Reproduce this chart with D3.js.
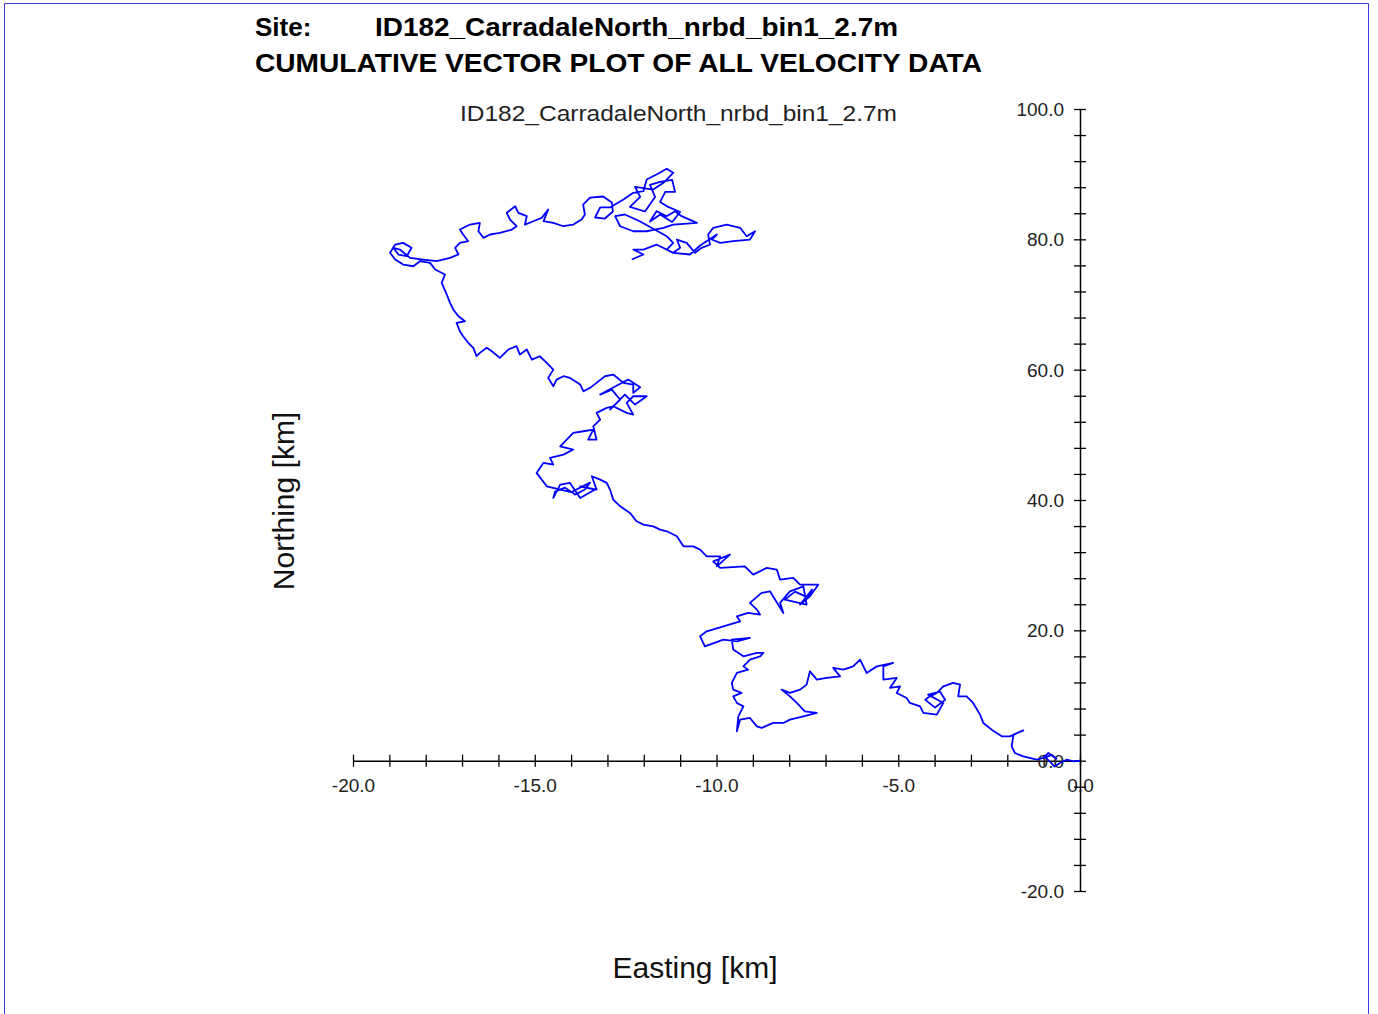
<!DOCTYPE html>
<html>
<head>
<meta charset="utf-8">
<script src="https://cdn.jsdelivr.net/npm/d3@7"></script>
<style>
  html, body { margin: 0; padding: 0; background: #fff; }
  svg { font-family: "Liberation Sans", Arial, sans-serif; }
</style>
</head>
<body>
<svg id="chart" width="1378" height="1014"></svg>
<script>
const siteName = "ID182_CarradaleNorth_nrbd_bin1_2.7m";
const plotTitle = "CUMULATIVE VECTOR PLOT OF ALL VELOCITY DATA";
const xLabel = "Easting [km]";
const yLabel = "Northing [km]";

const xTicks = d3.range(-20, 0.001, 1);     // minor every 1 km
const xLabelled = [-20, -15, -10, -5, 0];
const yTicks = d3.range(-20, 100.001, 4);
const yLabelled = [-20, 0, 20, 40, 60, 80, 100];

// cumulative track [easting km, northing km]
const track = [
  [0,0],[-0.18,-0.11],[-0.37,0.15],[-0.55,-0.35],[-0.70,-0.90],[-0.80,-0.30],[-0.95,0.50],[-0.78,0.90],[-0.65,0.30],
  [-0.87,1.18],[-1.01,0.41],[-1.19,0.15],[-1.56,0.66],
  [-1.79,1.18],[-1.88,2.19],[-1.83,3.99],[-1.56,4.65],[-1.93,3.73],[-2.15,3.73],[-2.43,4.76],[-2.66,5.79],
  [-2.75,7.06],[-2.94,8.86],[-3.12,9.87],[-3.35,9.87],[-3.30,11.67],[-3.49,11.93],[-3.76,11.40],[-3.94,10.39],
  [-4.13,9.87],[-4.26,9.36],[-3.99,8.14],[-3.71,9.36],[-3.85,10.59],[-4.18,10.13],
  [-3.76,8.86],[-3.94,7.06],[-4.31,7.32],[-4.40,8.33],[-4.68,8.86],[-4.77,9.62],[-5.04,10.39],
  [-4.95,11.40],[-5.23,11.16],[-5.04,12.69],[-5.41,12.43],[-5.41,14.47],[-5.14,15.00],[-5.59,14.47],[-5.87,13.46],
  [-6.05,15.50],[-6.24,14.47],[-6.51,13.97],[-6.79,14.23],[-6.60,12.94],[-6.97,12.69],[-7.24,12.43],[-7.43,13.71],
  [-7.52,11.67],[-7.70,10.90],[-7.98,10.39],[-8.21,10.90],[-7.98,9.87],[-7.79,8.86],[-7.57,7.57],[-7.24,7.32],
  [-7.61,6.80],[-7.98,6.29],[-8.16,5.79],[-8.44,5.79],[-8.76,5.02],[-8.89,5.27],[-9.08,6.55],[-9.35,6.29],
  [-9.44,4.50],[-9.40,6.80],[-9.26,8.33],[-9.44,8.86],[-9.54,9.87],[-9.31,10.39],[-9.54,10.90],[-9.58,11.93],
  [-9.44,13.46],[-9.13,13.97],[-9.26,14.47],[-9.08,15.50],[-8.80,16.01],[-8.71,16.53],[-8.89,16.53],[-9.26,16.01],
  [-9.54,17.04],[-9.58,18.57],[-9.08,18.83],[-9.44,18.31],[-9.81,18.57],[-10.32,17.54],[-10.45,19.08],[-10.27,19.85],
  [-9.81,20.61],[-9.35,21.38],[-9.44,22.15],[-9.13,22.67],[-8.80,22.41],[-8.89,23.18],[-9.08,24.21],[-8.76,25.74],
  [-8.53,25.99],[-8.16,22.67],[-8.25,24.21],[-7.98,25.99],[-7.61,26.75],[-7.52,23.95],
  [-8.12,24.71],[-7.84,25.94],[-7.48,25.02],[-7.37,26.25],[-7.70,23.95],
  [-7.43,25.22],[-7.20,27.01],
  [-7.70,27.01],[-7.89,28.04],[-8.25,27.78],[-8.34,29.32],[-8.62,29.58],[-8.99,28.55],[-9.22,29.82],[-9.90,29.58],
  [-10.09,30.59],[-9.63,31.62],[-9.99,29.82],[-9.90,31.36],[-10.27,31.36],[-10.45,32.39],[-10.64,32.89],[-10.91,32.89],
  [-11.09,34.43],[-11.37,35.20],[-11.55,35.46],[-11.74,35.96],[-12.01,36.22],[-12.20,36.73],[-12.38,38.02],[-12.65,39.03],
  [-12.84,40.06],[-12.93,41.60],[-13.02,42.62],[-13.20,43.13],[-13.43,43.64],[-13.30,41.60],[-13.75,42.10],[-13.34,41.60],
  [-13.75,40.32],[-14.03,42.62],[-14.30,42.36],[-14.49,40.32],
  [-14.44,41.29],[-14.17,41.90],[-13.89,40.83],[-13.62,41.60],[-13.48,42.67],[-14.00,41.20],
  [-14.67,42.10],[-14.95,44.16],[-14.76,45.70],[-14.49,45.43],
  [-14.58,46.46],[-14.21,46.97],[-13.94,47.74],[-14.30,48.24],[-14.12,49.27],[-13.94,50.30],[-13.66,50.55],[-13.39,50.81],
  [-13.53,49.27],[-13.30,49.27],[-13.39,51.31],[-13.20,52.34],[-13.30,53.37],[-13.02,54.14],[-12.84,54.38],[-12.47,53.37],
  [-12.29,53.11],[-12.47,54.90],[-12.29,55.92],[-11.92,55.92],
  [-12.24,54.65],[-12.52,56.18],[-12.93,53.88],[-12.65,55.41],[-12.88,56.94],[-13.20,56.18],[-12.43,58.48],[-12.10,57.30],
  [-12.29,56.44],[-12.29,57.71],[-12.56,57.97],[-12.84,59.25],
  [-13.07,58.99],[-13.30,57.97],[-13.48,57.21],[-13.66,56.69],[-13.75,57.71],[-14.03,58.74],[-14.21,58.99],[-14.40,58.48],
  [-14.49,57.45],[-14.63,58.74],[-14.49,60.01],[-14.67,61.04],[-14.86,62.06],[-15.08,61.55],[-15.22,63.09],[-15.41,62.32],
  [-15.50,63.60],[-15.73,63.09],[-15.96,61.81],[-16.18,62.83],[-16.32,63.35],[-16.51,62.58],[-16.60,62.06],[-16.69,63.35],
  [-16.83,64.12],[-16.97,65.13],[-17.06,65.90],[-17.15,67.18],[-16.92,67.43],[-17.10,68.20],[-17.24,69.22],[-17.33,70.25],
  [-17.42,71.53],[-17.56,73.32],[-17.47,74.60],[-17.74,75.37],[-17.88,76.39],[-18.16,76.64],[-18.34,75.87],[-18.62,76.13],
  [-18.84,76.90],[-18.98,77.93],[-18.84,79.20],[-18.62,79.46],[-18.39,78.70],[-18.52,77.41],[-18.75,77.67],[-18.89,78.70],
  [-18.71,78.43],[-18.43,77.16],[-18.07,76.90],[-17.70,76.64],[-17.33,77.16],[-17.10,77.67],[-17.19,78.70],[-17.06,79.46],
  [-16.83,79.71],[-16.97,80.74],[-17.06,81.50],[-16.78,82.27],[-16.51,82.53],[-16.55,81.24],[-16.41,80.23],[-16.23,80.74],
  [-15.96,81.00],[-15.63,81.50],[-15.50,82.01],[-15.68,83.04],[-15.77,84.07],[-15.54,85.08],[-15.45,84.07],[-15.22,83.55],
  [-15.27,82.27],[-15.04,82.78],[-14.81,83.30],[-14.63,84.57],[-14.76,82.78],[-14.49,82.53],[-14.21,82.01],[-13.94,82.27],
  [-13.71,83.04],[-13.62,83.81],[-13.67,85.34],[-13.48,86.41],[-13.12,86.57],[-12.88,85.65],[-12.85,84.27],[-13.07,83.19],
  [-13.34,83.35],[-13.20,84.89],[-12.93,84.89],[-12.56,86.11],[-12.29,87.14],[-12.01,87.39],[-11.92,89.18],[-11.65,89.95],
  [-11.37,90.82],[-11.19,90.21],[-11.46,88.67],[-11.74,87.64],[-12.24,88.05],[-12.10,86.51],[-12.38,84.97],[-11.97,84.27],
  [-11.88,84.97],[-11.69,86.51],[-11.83,88.36],[-11.55,88.82],[-11.22,89.13],[-11.14,87.28],[-11.41,87.28],[-11.55,85.74],
  [-11.33,84.97],[-11.00,84.20],[-11.22,82.66],[-11.55,83.81],[-11.83,82.73],[-11.65,84.32],[-11.37,83.55],[-11.14,84.32],
  [-10.96,83.55],[-10.54,82.53],
  [-11.19,82.27],[-11.46,81.77],[-11.92,81.24],[-12.29,81.24],[-12.65,82.01],[-12.79,83.55],[-12.52,83.81],[-12.10,82.73],
  [-11.37,80.48],[-11.19,79.46],[-11.37,78.43],[-11.19,77.93],[-11.00,78.70],[-11.09,79.97],[-10.82,79.46],[-10.59,77.93],
  [-10.41,78.70],[-10.18,79.20],[-10.23,80.74],[-10.09,81.77],[-9.72,82.27],[-9.35,81.77],[-9.17,80.48],[-8.94,81.24],
  [-9.08,79.97],[-9.54,79.71],[-9.90,79.46],[-10.13,79.97],[-9.99,80.74],[-10.45,79.05],[-10.73,77.67],[-11.19,77.93],
  [-11.65,79.20],[-12.01,78.43],[-12.29,78.43],[-12.01,77.67],[-12.33,76.90]
];

const svg = d3.select("#chart");

// page frame
svg.append("path")
  .attr("d", "M4.5,1014 V3.5 H1368.5 V1014")
  .attr("fill", "none")
  .attr("stroke", "#3b3bd9")
  .attr("stroke-width", 1);

// titles
svg.append("text")
  .attr("x", 255).attr("y", 36)
  .attr("font-size", 26).attr("font-weight", "bold")
  .text("Site:");
svg.append("text")
  .attr("x", 375).attr("y", 36)
  .attr("font-size", 26).attr("font-weight", "bold")
  .attr("textLength", 523).attr("lengthAdjust", "spacingAndGlyphs")
  .text(siteName);
svg.append("text")
  .attr("x", 255).attr("y", 72)
  .attr("font-size", 26).attr("font-weight", "bold")
  .attr("textLength", 727).attr("lengthAdjust", "spacingAndGlyphs")
  .text(plotTitle);
svg.append("text")
  .attr("x", 460).attr("y", 121)
  .attr("font-size", 22)
  .attr("textLength", 437).attr("lengthAdjust", "spacingAndGlyphs")
  .attr("fill", "#222")
  .text(siteName);

const x = d3.scaleLinear().domain([-20, 0]).range([353, 1080]);
const y = d3.scaleLinear().domain([-20, 100]).range([891, 109]);

const fmt = d => d.toFixed(1);

// x axis along northing = 0
const gx = svg.append("g")
  .attr("transform", `translate(0,${y(0)})`)
  .call(d3.axisBottom(x)
    .tickValues(xTicks)
    .tickSizeOuter(0)
    .tickFormat(d => xLabelled.includes(Math.round(d)) ? fmt(d) : ""));
gx.select(".domain").attr("stroke", "#000").attr("stroke-width", 1.5);
gx.selectAll(".tick line").attr("y1", -6).attr("y2", 6).attr("stroke", "#000").attr("stroke-width", 1.3);
gx.selectAll(".tick text")
  .attr("y", 31).attr("dy", 0)
  .attr("font-size", 19).attr("fill", "#222")
  .attr("font-family", "Liberation Sans, Arial, sans-serif");

// y axis along easting = 0
const gy = svg.append("g")
  .attr("transform", `translate(${x(0)},0)`)
  .call(d3.axisLeft(y)
    .tickValues(yTicks)
    .tickSizeOuter(0)
    .tickFormat(d => yLabelled.includes(Math.round(d)) ? fmt(d) : ""));
gy.select(".domain").attr("stroke", "#000").attr("stroke-width", 1.5);
gy.selectAll(".tick line").attr("x1", -6).attr("x2", 6).attr("stroke", "#000").attr("stroke-width", 1.3);
gy.selectAll(".tick text")
  .attr("x", -16).attr("dy", "0.35em")
  .attr("font-size", 19).attr("fill", "#222")
  .attr("font-family", "Liberation Sans, Arial, sans-serif");

// axis titles
svg.append("text")
  .attr("x", 695).attr("y", 978)
  .attr("font-size", 30).attr("text-anchor", "middle")
  .attr("fill", "#111")
  .text(xLabel);
svg.append("text")
  .attr("transform", "translate(294,501) rotate(-90)")
  .attr("font-size", 30).attr("text-anchor", "middle")
  .attr("fill", "#111")
  .text(yLabel);

// cumulative vector track
const line = d3.line()
  .x(d => x(d[0]))
  .y(d => y(d[1]));

svg.append("path")
  .datum(track)
  .attr("d", line)
  .attr("fill", "none")
  .attr("stroke", "#0000ff")
  .attr("stroke-width", 1.8)
  .attr("stroke-linejoin", "round");
</script>
</body>
</html>
